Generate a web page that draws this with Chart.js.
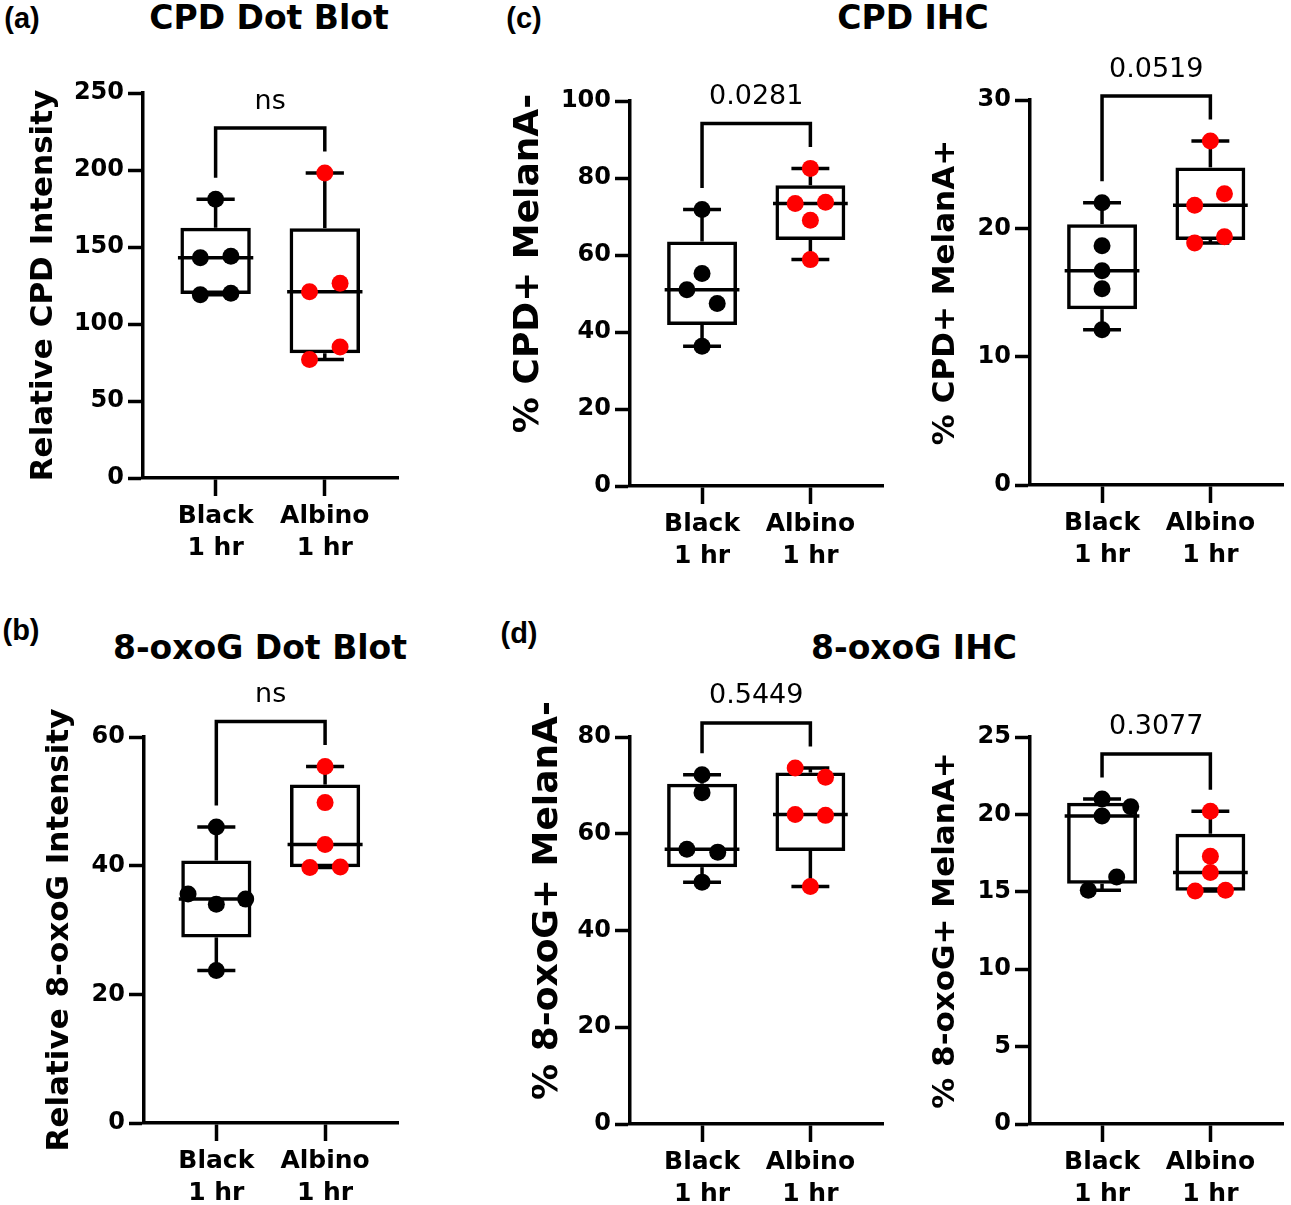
<!DOCTYPE html>
<html>
<head>
<meta charset="utf-8">
<script src="https://cdn.jsdelivr.net/npm/chart.js@4.4.1/dist/chart.umd.min.js"></script>
<style>
  body { margin: 0; background: #fff; width: 1291px; height: 1205px; position: relative; overflow: hidden; }
  canvas { position: absolute; }
  .tag { position: absolute; transform: translate(-50%, -50%); font: bold 29px 'Liberation Sans', Arial, sans-serif; line-height: 1; white-space: nowrap; }
  .ttl { position: absolute; transform: translate(-50%, -50%); font: bold 33px 'DejaVu Sans', sans-serif; line-height: 1; white-space: nowrap; }
</style>
</head>
<body>
<div class="tag" style="left:22px;top:18px">(a)</div>
<div class="tag" style="left:524px;top:18px">(c)</div>
<div class="tag" style="left:21px;top:630px">(b)</div>
<div class="tag" style="left:519px;top:633px">(d)</div>
<div class="ttl" style="left:269px;top:17px">CPD Dot Blot</div>
<div class="ttl" style="left:913px;top:17px">CPD IHC</div>
<div class="ttl" style="left:260px;top:647px">8-oxoG Dot Blot</div>
<div class="ttl" style="left:914px;top:647px">8-oxoG IHC</div>

<canvas id="cpdDot"></canvas>
<canvas id="oxoDot"></canvas>
<canvas id="cpdNeg"></canvas>
<canvas id="cpdPos"></canvas>
<canvas id="oxoNeg"></canvas>
<canvas id="oxoPos"></canvas>

<script>
// groups on the x axis
const categories = [['Black', '1 hr'], ['Albino', '1 hr']];

// (a) CPD dot blot
const cpdDotBlack = [181, 144, 143, 120, 119];
const cpdDotAlbino = [198, 126.5, 121, 85, 77];
const cpdDotTicks = [0, 50, 100, 150, 200, 250];
const cpdDotP = 'ns';

// (b) 8-oxoG dot blot
const oxoDotBlack = [46, 35.6, 34.8, 34.0, 23.7];
const oxoDotAlbino = [55.4, 49.8, 43.3, 39.8, 39.7];
const oxoDotTicks = [0, 20, 40, 60];
const oxoDotP = 'ns';

// (c) CPD IHC
const cpdNegBlack = [71.8, 55.2, 51.0, 47.4, 36.3];
const cpdNegAlbino = [82.5, 73.7, 73.4, 69.0, 58.8];
const cpdNegTicks = [0, 20, 40, 60, 80, 100];
const cpdNegP = '0.0281';

const cpdPosBlack = [22.0, 18.65, 16.7, 15.3, 12.1];
const cpdPosAlbino = [26.8, 22.7, 21.8, 19.35, 18.85];
const cpdPosTicks = [0, 10, 20, 30];
const cpdPosP = '0.0519';

// (d) 8-oxoG IHC
const oxoNegBlack = [72.2, 68.5, 56.8, 56.2, 50.0];
const oxoNegAlbino = [73.6, 71.7, 64.0, 63.8, 49.1];
const oxoNegTicks = [0, 20, 40, 60, 80];
const oxoNegP = '0.5449';

const oxoPosBlack = [21.0, 20.5, 19.9, 15.95, 15.1];
const oxoPosAlbino = [20.2, 17.3, 16.25, 15.1, 15.05];
const oxoPosTicks = [0, 5, 10, 15, 20, 25];
const oxoPosP = '0.3077';

// horizontal spread of the dots (fraction of a group width), as Prism placed them
const cpdDotSpread = [[0, 0.14, -0.14, 0.14, -0.14], [0, 0.14, -0.14, 0.14, -0.14]];
const oxoDotSpread = [[0, -0.26, 0.27, 0, 0], [0, 0, 0, 0.14, -0.14]];
const cpdNegSpread = [[0, 0, -0.14, 0.14, 0], [0, 0.14, -0.14, 0, 0]];
const cpdPosSpread = [[0, 0, 0, 0, 0], [0, 0.13, -0.145, 0.13, -0.145]];
const oxoNegSpread = [[0, 0, -0.14, 0.145, 0], [-0.14, 0.14, -0.14, 0.14, 0]];
const oxoPosSpread = [[0, 0.265, 0, 0.135, -0.127], [0, 0, 0, 0.14, -0.14]];

const LW = 3.5; // stroke width used everywhere

// quartiles the way Prism does them, (n+1)p
function boxStats(vals) {
  const s = [...vals].sort((a, b) => a - b);
  const q = p => {
    const pos = (s.length + 1) * p - 1;
    const lo = Math.floor(pos), hi = Math.ceil(pos);
    return s[lo] + (s[hi] - s[lo]) * (pos - lo);
  };
  return { min: s[0], q1: q(0.25), med: q(0.5), q3: q(0.75), max: s[s.length - 1] };
}

// whiskers, caps, median line, the p-value bracket and the y title
function boxPlugin(groups, pText, yTitle) {
  const seg = (ctx, x1, y1, x2, y2) => {
    ctx.beginPath(); ctx.moveTo(x1, y1); ctx.lineTo(x2, y2); ctx.stroke();
  };
  return {
    id: 'boxWhisker',
    beforeDatasetsDraw(chart) {
      const { ctx, scales: { x, y } } = chart;
      const unit = x.getPixelForValue(2) - x.getPixelForValue(1);
      ctx.save();
      ctx.strokeStyle = '#000';
      ctx.lineWidth = LW;
      groups.forEach((vals, i) => {
        const s = boxStats(vals);
        const cx = x.getPixelForValue(i + 1);
        const cap = 0.175 * unit, med = 0.345 * unit;
        seg(ctx, cx, y.getPixelForValue(s.q3), cx, y.getPixelForValue(s.max));
        seg(ctx, cx, y.getPixelForValue(s.q1), cx, y.getPixelForValue(s.min));
        seg(ctx, cx - cap, y.getPixelForValue(s.max), cx + cap, y.getPixelForValue(s.max));
        seg(ctx, cx - cap, y.getPixelForValue(s.min), cx + cap, y.getPixelForValue(s.min));
        seg(ctx, cx - med, y.getPixelForValue(s.med), cx + med, y.getPixelForValue(s.med));
      });
      ctx.restore();
    },
    afterDatasetsDraw(chart) {
      const { ctx, chartArea, scales: { x, y } } = chart;
      const tops = groups.map(v => y.getPixelForValue(Math.max(...v)));
      const barY = Math.min(...tops) - 45;
      const x1 = x.getPixelForValue(1), x2 = x.getPixelForValue(2);
      ctx.save();
      ctx.strokeStyle = '#000';
      ctx.lineWidth = LW;
      ctx.lineJoin = 'miter';
      ctx.beginPath();
      ctx.moveTo(x1, tops[0] - 21.5);
      ctx.lineTo(x1, barY);
      ctx.lineTo(x2, barY);
      ctx.lineTo(x2, tops[1] - 21.5);
      ctx.stroke();
      ctx.fillStyle = '#000';
      ctx.font = '27px "DejaVu Sans"';
      ctx.textAlign = 'center';
      ctx.textBaseline = 'alphabetic';
      ctx.fillText(pText, (x1 + x2) / 2, barY - 19.5);

      // rotated y-axis title
      ctx.translate(y.left + 15.5, (chartArea.top + chartArea.bottom) / 2 + yTitle.shift);
      ctx.rotate(-Math.PI / 2);
      ctx.font = 'bold ' + yTitle.size + 'px "DejaVu Sans"';
      ctx.textBaseline = 'middle';
      ctx.fillText(yTitle.text, 0, 0);
      ctx.restore();
    }
  };
}

function drawPanel(id, g, black, albino, spread, yTicks, yTitle, pText) {
  const canvas = document.getElementById(id);
  const left = Math.round(g.titleX - 15.5);
  const top = g.top - 60;
  canvas.width = g.right + 4 - left;
  canvas.height = g.bottom + 95 - top;
  canvas.style.left = left + 'px';
  canvas.style.top = top + 'px';

  const dots = (vals, k, color) => ({
    type: 'scatter',
    data: vals.map((v, i) => ({ x: k + 1 + spread[k][i], y: v })),
    backgroundColor: color,
    borderWidth: 0,
    pointRadius: 8.5,
    pointHoverRadius: 8.5,
    clip: false,
    order: 0
  });

  new Chart(canvas.getContext('2d'), {
    type: 'bar',
    data: {
      datasets: [
        dots(black, 0, '#000000'),
        dots(albino, 1, '#ff0000'),
        {
          type: 'bar',
          data: [black, albino].map((vals, i) => {
            const s = boxStats(vals);
            return { x: i + 1, y: [s.q1, s.q3] };
          }),
          backgroundColor: 'rgba(0,0,0,0)',
          borderColor: '#000',
          borderWidth: LW,
          borderSkipped: false,
          barPercentage: 0.645,
          categoryPercentage: 1,
          order: 2
        }
      ]
    },
    options: {
      responsive: false,
      animation: false,
      events: [],
      layout: { padding: { top: 60, right: 4, left: 0, bottom: 0 } },
      plugins: { legend: { display: false }, tooltip: { enabled: false } },
      scales: {
        x: {
          type: 'linear',
          min: 0.335,
          max: 2.675,
          offset: false,
          afterBuildTicks: s => { s.ticks = [{ value: 1 }, { value: 2 }]; },
          afterFit: s => { s.height = 95; },
          ticks: {
            callback: (v, i) => categories[i],
            color: '#000',
            padding: 4,
            maxRotation: 0,
            autoSkip: false,
            font: { family: 'DejaVu Sans', weight: 'bold', size: 25, lineHeight: '32px' }
          },
          grid: { offset: false, drawOnChartArea: false, tickLength: 18, tickWidth: LW, tickColor: '#000' },
          border: { color: '#000', width: LW }
        },
        y: {
          min: 0,
          max: yTicks[yTicks.length - 1],
          afterBuildTicks: s => { s.ticks = yTicks.map(v => ({ value: v })); },
          afterFit: s => { s.width = g.left - left; },
          ticks: {
            color: '#000',
            padding: 4,
            font: { family: 'DejaVu Sans', weight: 'bold', size: 24 }
          },
          grid: { drawOnChartArea: false, tickLength: 15, tickWidth: LW, tickColor: '#000' },
          border: { color: '#000', width: LW },
          title: { display: false }
        }
      }
    },
    plugins: [boxPlugin([black, albino], pText, yTitle)]
  });
}

document.addEventListener('DOMContentLoaded', function() {
  drawPanel('cpdDot', { titleX: 43, left: 143, top: 93, right: 403, bottom: 478 },
    cpdDotBlack, cpdDotAlbino, cpdDotSpread, cpdDotTicks,
    { text: 'Relative CPD Intensity', size: 31, shift: 0 }, cpdDotP);
  drawPanel('oxoDot', { titleX: 59, left: 144, top: 737, right: 403, bottom: 1123 },
    oxoDotBlack, oxoDotAlbino, oxoDotSpread, oxoDotTicks,
    { text: 'Relative 8-oxoG Intensity', size: 31, shift: 0 }, oxoDotP);
  drawPanel('cpdNeg', { titleX: 528, left: 630, top: 101, right: 888, bottom: 486 },
    cpdNegBlack, cpdNegAlbino, cpdNegSpread, cpdNegTicks,
    { text: '% CPD+ MelanA-', size: 36, shift: -30 }, cpdNegP);
  drawPanel('cpdPos', { titleX: 945, left: 1030, top: 100, right: 1288, bottom: 485 },
    cpdPosBlack, cpdPosAlbino, cpdPosSpread, cpdPosTicks,
    { text: '% CPD+ MelanA+', size: 31, shift: 0 }, cpdPosP);
  drawPanel('oxoNeg', { titleX: 547, left: 630, top: 737, right: 888, bottom: 1124 },
    oxoNegBlack, oxoNegAlbino, oxoNegSpread, oxoNegTicks,
    { text: '% 8-oxoG+ MelanA-', size: 36, shift: -30 }, oxoNegP);
  drawPanel('oxoPos', { titleX: 945, left: 1030, top: 737, right: 1288, bottom: 1124 },
    oxoPosBlack, oxoPosAlbino, oxoPosSpread, oxoPosTicks,
    { text: '% 8-oxoG+ MelanA+', size: 31, shift: 0 }, oxoPosP);
});
</script>
</body>
</html>
